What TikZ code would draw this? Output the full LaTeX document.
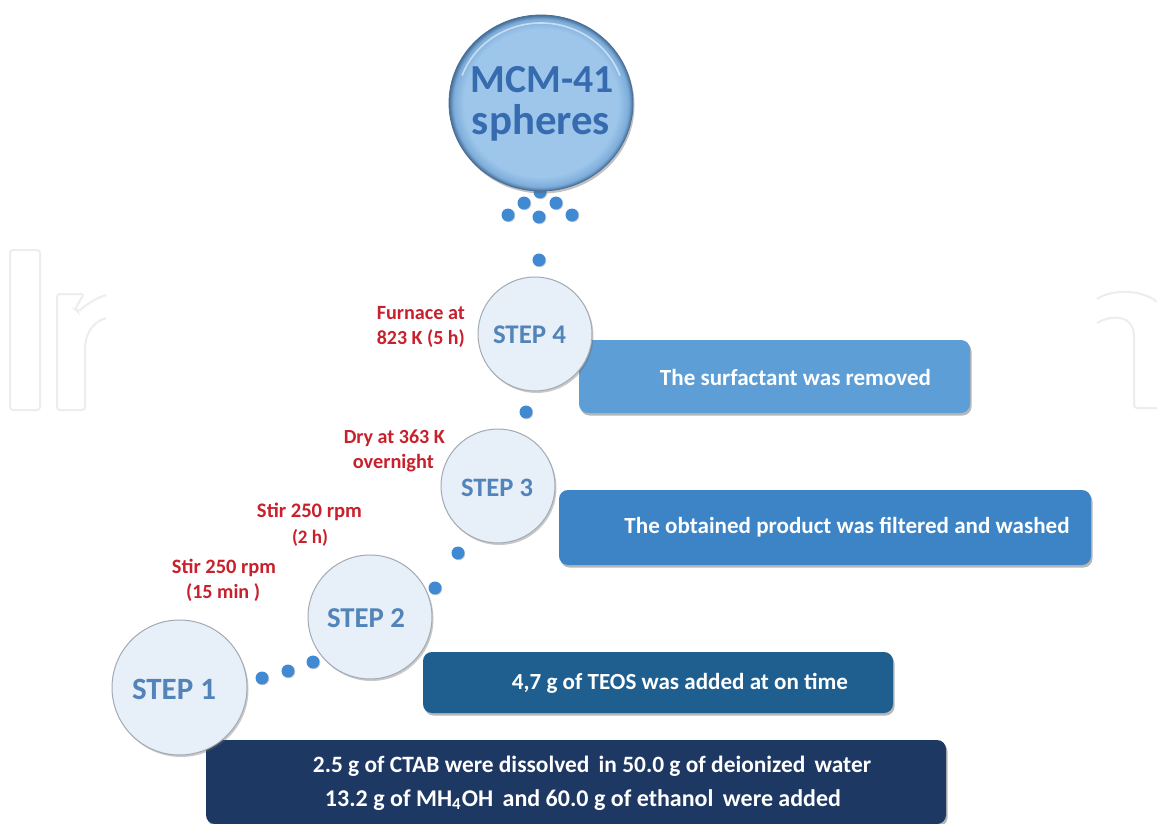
\documentclass[tikz,border=0pt]{standalone}
\usepackage{fontspec}
\setmainfont{Carlito}
\usepackage{graphicx}
\usetikzlibrary{shadows,shapes.geometric}

\definecolor{redlab}{HTML}{C8202C}
\definecolor{steptxt}{HTML}{5384B9}
\definecolor{stepfill}{HTML}{E7EFF8}
\definecolor{stepline}{HTML}{A3AAB2}
\definecolor{dotc}{HTML}{3F8AD2}
\definecolor{boxa}{HTML}{5E9ED6}
\definecolor{boxb}{HTML}{3C84C6}
\definecolor{boxc}{HTML}{1F5F8F}
\definecolor{boxd}{HTML}{1E3864}
\definecolor{sphA}{HTML}{9DC6EA}
\definecolor{sphB}{HTML}{7EADDB}
\definecolor{sphC}{HTML}{476F98}
\definecolor{mcmtxt}{HTML}{376BAF}
\definecolor{wmc}{HTML}{ECEDEE}

\pgfdeclareradialshading{sphshade}{\pgfpoint{0bp}{0bp}}{color(0bp)=(sphA); color(21bp)=(sphA); color(23.8bp)=(sphB); color(25bp)=(sphC); color(50bp)=(sphC)}

\newcommand{\fitw}[2]{\resizebox{#1pt}{!}{#2}}

\tikzset{
  wmline/.style={draw=wmc, line width=2pt, rounded corners=3pt},
  boxshape/.style={rectangle, rounded corners=9pt, inner sep=0pt,
    drop shadow={shadow xshift=1.5pt, shadow yshift=-2.5pt, opacity=.4, fill=black!70}},
  stepcircle/.style={circle, inner sep=0pt, fill=stepfill, draw=stepline, line width=1pt,
    drop shadow={shadow xshift=1.5pt, shadow yshift=-2pt, opacity=.35, fill=black!60}},
  steplabel/.style={inner sep=0pt, text=steptxt, font=\bfseries},
  dotnode/.style={circle, inner sep=0pt, minimum size=13pt, fill=dotc,
    drop shadow={shadow xshift=.8pt, shadow yshift=-.8pt, opacity=.3, fill=black!60}},
  redtext/.style={inner sep=0pt, text=redlab, font=\bfseries},
  boxtext/.style={inner sep=0pt, text=white, font=\bfseries},
  mcmtext/.style={inner sep=0pt, text=mcmtxt, font=\bfseries},
}

\begin{document}
\begin{tikzpicture}[x=1pt, y=-1pt]
\useasboundingbox[fill=white] (0,0) rectangle (1157,824);

% faint watermark at the edges
\draw[wmline] (10,250) rectangle (40,410);
\draw[wmline] (106,318) .. controls (92,322) and (85,335) .. (85,352) -- (85,410) -- (57,410)
  -- (57,294) -- (84,294) -- (75,309) -- (78,312) .. controls (88,303) and (97,298) .. (106,295);
\draw[wmline] (1097,299) .. controls (1110,290) and (1140,288) .. (1157,302);
\draw[wmline] (1097,323) .. controls (1108,316) and (1134,312) .. (1134,340) -- (1134,408) -- (1157,408);

% boxes
\node[boxshape, fill=boxa, minimum width=391pt, minimum height=73pt] (b4) at (774.5,376.5) {};
\node[boxshape, fill=boxb, minimum width=532pt, minimum height=75pt] (b3) at (825,527.5) {};
\node[boxshape, fill=boxc, minimum width=470pt, minimum height=61pt] (b2) at (658,682.5) {};
\node[boxshape, fill=boxd, minimum width=740pt, minimum height=84pt] (b1) at (576,782) {};

\node[boxtext] (t4) at (795.5,377) {\fitw{271}{The surfactant was removed}};
\node[boxtext] (t3) at (847,527) {\fitw{445}{The obtained product was filtered and washed}};
\node[boxtext] (t2) at (680,683) {\fitw{336}{4,7 g of TEOS was added at on time}};
\node[boxtext] (t1a) at (592,766) {\fitw{558}{2.5 g of CTAB were dissolved\, in 50.0 g of deionized\, water}};
\node[boxtext] (t1b) at (583,800) {\fitw{516}{13.2 g of MH\textsubscript{4}OH\, and 60.0 g of ethanol\, were added}};

% connecting dots
\node[dotnode] (s0) at (540,192) {};
\node[dotnode] (s1) at (524,203) {};
\node[dotnode] (s2) at (556,203) {};
\node[dotnode] (s3) at (508,215) {};
\node[dotnode] (s4) at (539,217) {};
\node[dotnode] (s5) at (572,215) {};
\node[dotnode] (d1) at (539,260) {};
\node[dotnode] (d2) at (526,412) {};
\node[dotnode] (d3) at (458,553) {};
\node[dotnode] (d4) at (435,588) {};
\node[dotnode] (d5) at (313,662) {};
\node[dotnode] (d6) at (288,671) {};
\node[dotnode] (d7) at (262,678) {};

% sphere
\node[ellipse, minimum width=184pt, minimum height=176pt, inner sep=0pt, shading=sphshade,
  draw=sphC, line width=.8pt,
  drop shadow={shadow xshift=1.5pt, shadow yshift=-2.5pt, opacity=.4, fill=black!60}] (mcm) at (541,103) {};
\draw[white, opacity=.55, line width=1.6pt] (541,103) ++(200:84 and 80) arc[start angle=200, end angle=340, x radius=84, y radius=80];
\node[mcmtext] (mcm1) at (542,80) {\fitw{143}{MCM-41}};
\node[mcmtext] (mcm2) at (541,123) {\fitw{138}{spheres}};

% step circles
\node[stepcircle, minimum size=114pt] (c4) at (535,334) {};
\node[stepcircle, minimum size=114pt] (c3) at (498,486) {};
\node[stepcircle, minimum size=124pt] (c2) at (370,617) {};
\node[stepcircle, minimum size=135pt] (c1) at (179.5,687.5) {};

\node[steplabel] (l4) at (529.5,335) {\fitw{73}{STEP 4}};
\node[steplabel] (l3) at (497,488) {\fitw{72}{STEP 3}};
\node[steplabel] (l2) at (366,618) {\fitw{78}{STEP 2}};
\node[steplabel] (l1) at (174,689) {\fitw{84}{STEP 1}};

% red labels
\node[redtext, anchor=east] (r4a) at (465,313) {\fitw{88}{Furnace at}};
\node[redtext, anchor=east] (r4b) at (465,339) {\fitw{88}{823 K (5 h)}};
\node[redtext, anchor=east] (r3a) at (445,438) {\fitw{101}{Dry at 363 K}};
\node[redtext, anchor=east] (r3b) at (434,463) {\fitw{81}{overnight}};
\node[redtext] (r2a) at (309.5,512) {\fitw{105}{Stir 250 rpm}};
\node[redtext] (r2b) at (310,538) {\fitw{36}{(2 h)}};
\node[redtext] (r1a) at (224,568) {\fitw{104}{Stir 250 rpm}};
\node[redtext] (r1b) at (223,593) {\fitw{74}{(15 min )}};
\end{tikzpicture}
\end{document}
